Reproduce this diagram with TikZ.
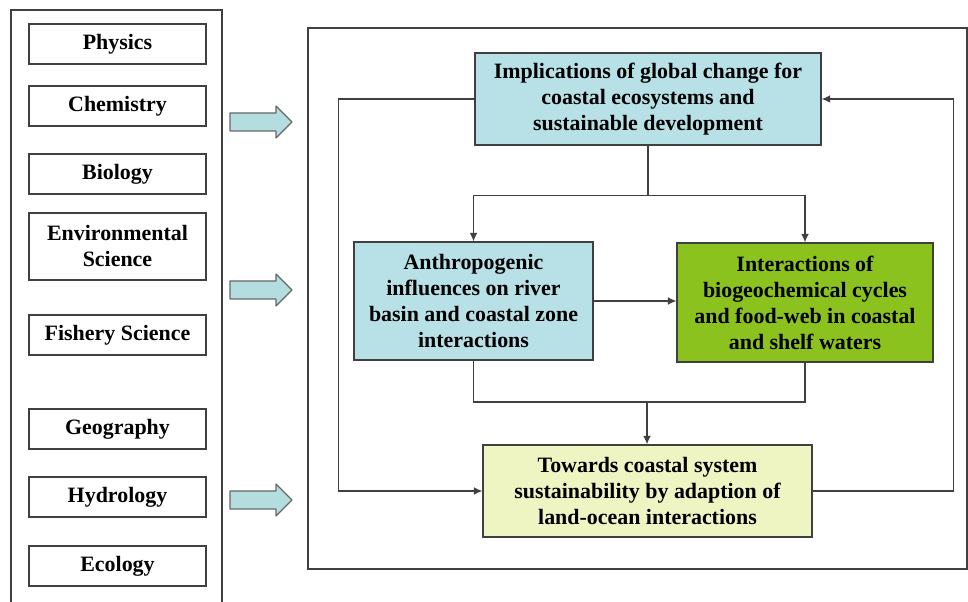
\documentclass[tikz,border=0pt]{standalone}
\usepackage{fontspec}
\setmainfont{Liberation Serif}
\usepackage{tikz}
\usetikzlibrary{arrows.meta}

\definecolor{boxblue}{HTML}{B7E1E6}
\definecolor{arrowblue}{HTML}{B3DDDE}
\definecolor{boxgreen}{HTML}{8CC21E}
\definecolor{boxyellow}{HTML}{EEF4C2}
\definecolor{linegray}{HTML}{404040}

\begin{document}
\begin{tikzpicture}[
   txt/.style={font=\bfseries\fontsize{15.6}{18.5}\selectfont, align=center, inner sep=0pt},
   field/.style={txt, draw=linegray, line width=0.9pt, minimum width=4.425cm, minimum height=1cm},
   theme/.style={txt, draw=linegray, line width=0.9pt},
   flow/.style={draw=linegray, line width=0.9pt},
   tip/.style={-{Latex[length=6pt,width=5.5pt]}},
   fatarrow/.style={draw=black!60, line width=0.8pt, fill=arrowblue, line join=round}]%
   \useasboundingbox (0,0) rectangle (24.2,15.05);
   % left column: disciplines
   \draw[linegray, line width=0.9pt] (0.275,0) -- (0.275,14.8) -- (5.55,14.8) -- (5.55,0);
   \node[field] (phys) at (2.9375,13.95) {Physics};
   \node[field] (chem) at (2.9375,12.4) {Chemistry};
   \node[field] (bio) at (2.9375,10.7) {Biology};
   \node[field, minimum height=1.675cm] (env) at (2.9375,8.8875) {Environmental\\Science};
   \node[field] (fish) at (2.9375,6.675) {Fishery Science};
   \node[field] (geo) at (2.9375,4.325) {Geography};
   \node[field] (hydro) at (2.9375,2.625) {Hydrology};
   \node[field] (eco) at (2.9375,0.9) {Ecology};
   % block arrows
   \foreach \ay in {12.0, 7.8, 2.55}
      \draw[fatarrow, shift={(0,\ay)}] (5.75,0.225) -- (6.9,0.225) -- (6.9,0.4) -- (7.3,0)
         -- (6.9,-0.4) -- (6.9,-0.225) -- (5.75,-0.225) -- cycle;
   % right frame: themes
   \draw[linegray, line width=0.9pt] (7.7,0.825) rectangle (24.175,14.35);
   \node[theme, fill=boxblue, minimum width=8.65cm, minimum height=2.3cm] (impl) at (16.2,12.575)
      {Implications of global change for\\coastal ecosystems and\\sustainable development};
   \node[theme, fill=boxblue, minimum width=5.975cm, minimum height=2.95cm] (anthro) at (11.8375,7.525)
      {Anthropogenic\\influences on river\\basin and coastal zone\\interactions};
   \node[theme, fill=boxgreen, minimum width=6.4cm, minimum height=2.975cm] (inter) at (20.125,7.4875)
      {Interactions of\\biogeochemical cycles\\and food-web in coastal\\and shelf waters};
   \node[theme, fill=boxyellow, minimum width=8.225cm, minimum height=2.3cm] (towards) at (16.1875,2.775)
      {Towards coastal system\\sustainability by adaption of\\land-ocean interactions};
   % connectors
   \draw[flow] (impl.south) -- ++(0,-1.25) coordinate (split);
   \draw[flow, tip] (split) -| (anthro.north);
   \draw[flow, tip] (split) -| (inter.north);
   \draw[flow, tip] (anthro.east) -- (inter.west |- anthro.east);
   \coordinate (join) at (16.175,5.0);
   \draw[flow] (anthro.south) |- (join) -| (inter.south);
   \draw[flow, tip] (join) -- (join |- towards.north);
   \draw[flow, tip] (impl.west) -- ++(-3.4,0) |- (towards.west);
   \draw[flow, tip] (towards.east) -- ++(3.525,0) |- (impl.east);
\end{tikzpicture}
\end{document}
